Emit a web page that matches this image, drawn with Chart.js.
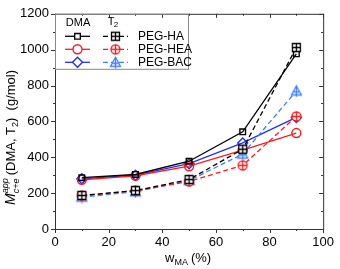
<!DOCTYPE html>
<html><head><meta charset="utf-8">
<script src="https://cdn.jsdelivr.net/npm/chart.js@4/dist/chart.umd.min.js"></script>
<style>html,body{margin:0;padding:0;background:#fff}#wrap{width:340px;height:269px;position:relative}</style>
</head><body><div id="wrap"><canvas id="c" width="340" height="269"></canvas></div>
<script>
const wMA = [10, 30, 50, 70, 90];
const dmaHA  = [286, 304, 378, 542, 977];
const dmaHEA = [274, 297, 350, 440, 535];
const dmaBAC = [280, 300, 364, 480, 622];
const t2HA   = [187, 214, 276, 445, 1012];
const t2HEA  = [187, 214, 265, 355, 628];
const t2BAC  = [178, 208, 270, 418, 770];
const seriesNames = ['PEG-HA', 'PEG-HEA', 'PEG-BAC'];
const xTicks = [0, 20, 40, 60, 80, 100];
const yTicks = [0, 200, 400, 600, 800, 1000, 1200];

const BLACK = '#000000', RED = '#ff1a1a', BLUE = '#1f2fff', LBLUE = '#3f7fff';
const FONT = '"Liberation Sans", Arial, sans-serif';

function mk(kind, color) {
  const s = 13, c = document.createElement('canvas');
  c.width = s; c.height = s;
  const g = c.getContext('2d');
  g.strokeStyle = color; g.fillStyle = '#fff'; g.lineWidth = 1.3;
  const m = s / 2;
  g.beginPath();
  if (kind === 'sq') { g.rect(2.5, 2.5, 8, 8); g.fill(); g.stroke(); g.beginPath(); g.moveTo(m, 2.5); g.lineTo(m, 10.5); g.moveTo(2.5, m); g.lineTo(10.5, m); g.stroke(); }
  else if (kind === 'ci') { g.arc(m, m, 4.5, 0, Math.PI * 2); g.fill(); g.stroke(); g.beginPath(); g.moveTo(m, 2); g.lineTo(m, 11); g.moveTo(2, m); g.lineTo(11, m); g.stroke(); }
  else if (kind === 'tr') { g.moveTo(m, 1.5); g.lineTo(11.5, 10.5); g.lineTo(1.5, 10.5); g.closePath(); g.fill(); g.stroke(); g.beginPath(); g.moveTo(m, 1.5); g.lineTo(m, 12.5); g.moveTo(3.5, 7.5); g.lineTo(9.5, 7.5); g.stroke(); }
  return c;
}
const imgSq = mk('sq', BLACK), imgCi = mk('ci', RED), imgTr = mk('tr', LBLUE);

function ds(label, data, color, style, dashed, radius) {
  return {
    label, data: wMA.map((x, i) => ({ x, y: data[i] })),
    borderColor: color, backgroundColor: '#fff', borderWidth: 1.3,
    pointStyle: style, pointRadius: radius, pointBorderWidth: 1.4,
    pointBorderColor: color, pointBackgroundColor: 'rgba(255,255,255,0)',
    borderDash: dashed ? [5, 3] : [], showLine: true, tension: 0
  };
}

const datasets = [
  ds('T2 ' + seriesNames[0], t2HA, BLACK, imgSq, true, 6),
  ds('T2 ' + seriesNames[1], t2HEA, RED, imgCi, true, 6),
  ds('T2 ' + seriesNames[2], t2BAC, LBLUE, imgTr, true, 6),
  ds('DMA ' + seriesNames[0], dmaHA, BLACK, 'rect', false, 4),
  ds('DMA ' + seriesNames[1], dmaHEA, RED, 'circle', false, 4.5),
  ds('DMA ' + seriesNames[2], dmaBAC, BLUE, 'rectRot', false, 5)
];

const decor = {
  id: 'decor',
  afterDraw(chart) {
    const { ctx, chartArea: a, scales: { x, y } } = chart;
    ctx.save();
    ctx.strokeStyle = '#333'; ctx.lineWidth = 1;
    ctx.strokeRect(a.left + 0.5, a.top + 0.5, a.right - a.left, a.bottom - a.top);
    ctx.beginPath();
    for (let v = 0; v <= 100; v += 10) {
      const px = Math.round(x.getPixelForValue(v)) + 0.5, L = v % 20 === 0 ? 4 : 2;
      ctx.moveTo(px, a.bottom); ctx.lineTo(px, a.bottom + L);
      ctx.moveTo(px, a.top); ctx.lineTo(px, a.top + L);
    }
    for (let v = 0; v <= 1200; v += 100) {
      const py = Math.round(y.getPixelForValue(v)) + 0.5, L = v % 200 === 0 ? 4 : 2;
      ctx.moveTo(a.left, py); ctx.lineTo(a.left - L, py);
      ctx.moveTo(a.right, py); ctx.lineTo(a.right - L, py);
    }
    ctx.stroke();

    // legend
    const lx = a.left, ly = a.top, lw = 133, lh = 55;
    ctx.strokeStyle = '#888'; ctx.lineWidth = 1;
    ctx.strokeRect(lx + 0.5, ly + 0.5, lw, lh);
    ctx.fillStyle = '#000'; ctx.textBaseline = 'middle'; ctx.textAlign = 'center';
    ctx.font = '11px ' + FONT;
    ctx.fillText('DMA', lx + 23, ly + 9);
    ctx.fillText('T', lx + 56, ly + 8);
    ctx.font = '8px ' + FONT; ctx.fillText('2', lx + 61, ly + 11);
    const rows = [[BLACK, BLACK, 'rect', imgSq, 4], [RED, RED, 'circle', imgCi, 4.5], [BLUE, LBLUE, 'rectRot', imgTr, 5]];
    rows.forEach((r, i) => {
      const yy = ly + 22 + i * 13;
      ctx.lineWidth = 1.3;
      ctx.strokeStyle = r[0]; ctx.setLineDash([]);
      ctx.beginPath(); ctx.moveTo(lx + 10, yy + 0.5); ctx.lineTo(lx + 35, yy + 0.5); ctx.stroke();
      ctx.fillStyle = '#fff'; ctx.lineWidth = 1.4;
      Chart.helpers.drawPoint(ctx, { pointStyle: r[2], radius: r[4], borderWidth: 1.4, rotation: 0 }, lx + 22.5, yy + 0.5);
      ctx.strokeStyle = r[1]; ctx.lineWidth = 1.3; ctx.setLineDash([5, 3]);
      ctx.beginPath(); ctx.moveTo(lx + 48, yy + 0.5); ctx.lineTo(lx + 73, yy + 0.5); ctx.stroke();
      ctx.setLineDash([]);
      ctx.drawImage(r[3], lx + 60.5 - 6.5, yy + 0.5 - 6.5);
      ctx.fillStyle = '#000'; ctx.textAlign = 'left'; ctx.font = '12px ' + FONT;
      ctx.fillText(seriesNames[i], lx + 83, yy + 1);
    });

    // x title
    ctx.fillStyle = '#000'; ctx.textAlign = 'left'; ctx.textBaseline = 'alphabetic';
    let tx = 165; const ty = 262;
    ctx.font = '13px ' + FONT; ctx.fillText('w', tx, ty); tx += ctx.measureText('w').width;
    ctx.font = '9px ' + FONT; ctx.fillText('MA', tx, ty + 3); tx += ctx.measureText('MA').width + 3;
    ctx.font = '13px ' + FONT; ctx.fillText('(%)', tx, ty);

    // y title rotated
    ctx.save();
    ctx.translate(15, 205); ctx.rotate(-Math.PI / 2);
    let p = 0;
    ctx.font = 'italic 14px ' + FONT; ctx.fillText('M', p, 0); p += ctx.measureText('M').width;
    ctx.font = 'italic 9px ' + FONT; ctx.fillText('app', p, -7); ctx.fillText('c+e', p, 4);
    p += Math.max(ctx.measureText('app').width, ctx.measureText('c+e').width) + 3;
    ctx.font = '13px ' + FONT; ctx.fillText('(DMA, T', p, 0); p += ctx.measureText('(DMA, T').width;
    ctx.font = '9px ' + FONT; ctx.fillText('2', p, 3); p += ctx.measureText('2').width;
    ctx.font = '13px ' + FONT; ctx.fillText(')  (g/mol)', p, 0);
    ctx.restore();
    ctx.restore();
  }
};

new Chart(document.getElementById('c'), {
  type: 'scatter',
  data: { datasets },
  options: {
    responsive: false, animation: false, devicePixelRatio: 1,
    layout: { padding: { left: 0, top: 7, right: 12, bottom: 0 } },
    plugins: { legend: { display: false }, tooltip: { enabled: false } },
    scales: {
      x: {
        type: 'linear', min: 0, max: 100,
        afterBuildTicks: s => { s.ticks = xTicks.map(v => ({ value: v })); },
        afterFit: s => { s.height = 40; },
        grid: { display: false, drawTicks: false }, border: { display: false },
        ticks: { color: '#000', font: { family: FONT, size: 13 }, padding: 6, maxRotation: 0, callback: v => String(v) }
      },
      y: {
        type: 'linear', min: 0, max: 1200,
        afterBuildTicks: s => { s.ticks = yTicks.map(v => ({ value: v })); },
        afterFit: s => { s.width = 55; },
        grid: { display: false, drawTicks: false }, border: { display: false },
        ticks: { color: '#000', font: { family: FONT, size: 13 }, padding: 6, callback: v => String(v) }
      }
    }
  },
  plugins: [decor]
});
</script></body></html>
